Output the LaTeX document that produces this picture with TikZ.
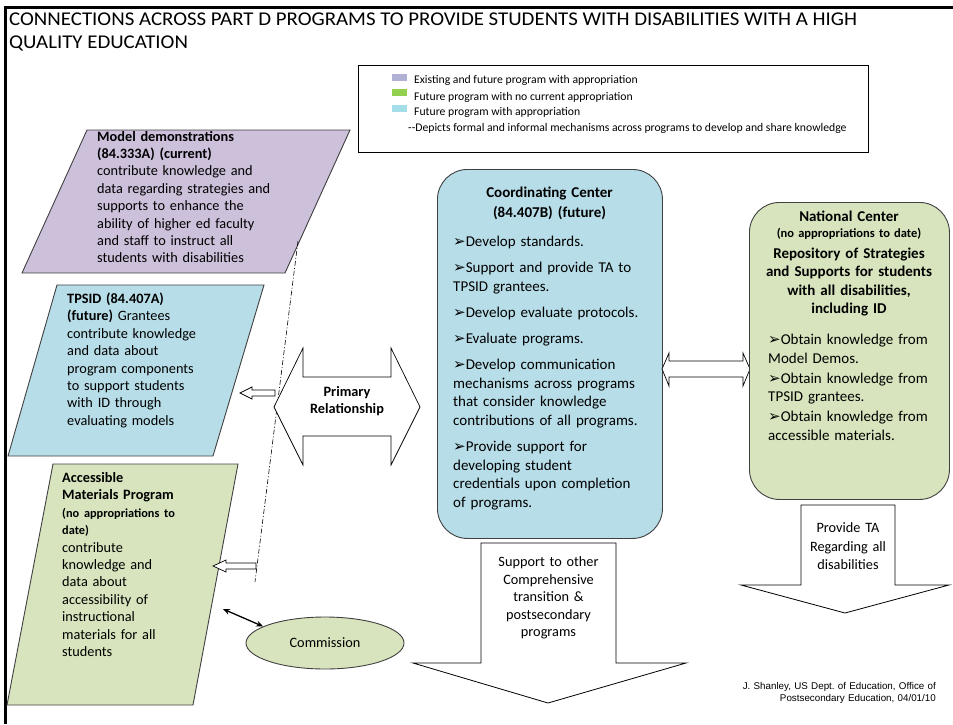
\documentclass[tikz,border=0pt]{standalone}
\usepackage{fontspec}
\usepackage{graphicx}
\setmainfont{Carlito}
\newfontfamily\arialf{Liberation Sans}
\newfontfamily\dvs{DejaVu Sans}
\usetikzlibrary{arrows.meta,shapes.geometric}
\definecolor{lav}{HTML}{CCC0DA}
\definecolor{lblue}{HTML}{B7DDE8}
\definecolor{lgreen}{HTML}{D7E4BD}
\definecolor{swlav}{HTML}{B1B1D5}
\definecolor{swgreen}{HTML}{92D050}
\definecolor{swblue}{HTML}{A5DEE8}
\definecolor{edgec}{HTML}{404040}
\newcommand\bul{{\dvs\fontsize{15}{10}\selectfont ➢}}
\frenchspacing
\tikzset{
  shapeline/.style={draw=edgec, line width=0.9pt},
  blockarrow/.style={draw=black, fill=white, line width=0.7pt},
  bodytxt/.style={inner sep=0pt, anchor=base west, align=left, font=\fontsize{14.3}{17.4}\selectfont},
  centertxt/.style={inner sep=0pt, anchor=base, align=center},
  legtxt/.style={inner sep=0pt, anchor=base west, font=\fontsize{11.7}{13}\selectfont},
}
\begin{document}
\begin{tikzpicture}[x=1pt,y=-1pt]
\useasboundingbox (0,0) rectangle (953,724);
% frame
\draw[line width=3pt] (5,724) -- (5,7) -- (953,7);
% title
\node[inner sep=0pt, anchor=base west] (title) at (9,25.4)
 {\resizebox{848pt}{\height}{\fontsize{19.5}{23}\selectfont\begin{tabular}[t]{@{}l@{}}CONNECTIONS ACROSS PART D PROGRAMS TO PROVIDE STUDENTS WITH DISABILITIES WITH A HIGH\\ QUALITY EDUCATION\end{tabular}}};
% legend
\draw[line width=0.8pt] (358,65) rectangle (868,152);
\fill[swlav] (392,74) rectangle (407,81);
\fill[swgreen] (392,89) rectangle (407,96);
\fill[swblue] (392,105) rectangle (407,112);
\node[legtxt] (l1) at (414,83.5) {Existing and future program with appropriation};
\node[legtxt] (l2) at (414,100) {Future program with no current appropriation};
\node[legtxt] (l3) at (414,115.5) {Future program with appropriation};
\node[legtxt] (l4) at (408,131.5) {{-}{-}Depicts formal and informal mechanisms across programs to develop and share knowledge};
% Model demonstrations
\coordinate (md1) at (87,130); \coordinate (md2) at (350,130);
\coordinate (md3) at (285,273); \coordinate (md4) at (22,273);
\draw[shapeline, fill=lav] (md1) -- (md2) -- (md3) -- (md4) -- cycle;
\node[bodytxt, text width=200pt] (mdt) at (97,141)
 {\textbf{Model demonstrations}\\ \textbf{(84.333A) (current)}\\ contribute knowledge and\\ data regarding strategies and\\ supports to enhance the\\ ability of higher ed faculty\\ and staff to instruct all\\ students with disabilities};
% TPSID
\coordinate (tp1) at (57,285); \coordinate (tp2) at (264,285);
\coordinate (tp3) at (213,456); \coordinate (tp4) at (8,456);
\draw[shapeline, fill=lblue] (tp1) -- (tp2) -- (tp3) -- (tp4) -- cycle;
\node[bodytxt, text width=170pt] (tpt) at (67,303.5)
 {\textbf{TPSID (84.407A)}\\ \textbf{(future)} Grantees\\ contribute knowledge\\ and data about\\ program components\\ to support students\\ with ID through\\ evaluating models};
% Accessible materials
\coordinate (am1) at (53,464); \coordinate (am2) at (238,464);
\coordinate (am3) at (193,705); \coordinate (am4) at (7,705);
\draw[shapeline, fill=lgreen] (am1) -- (am2) -- (am3) -- (am4) -- cycle;
\node[bodytxt, text width=150pt] (amt) at (62,482.5)
 {\textbf{Accessible}\\ \textbf{Materials Program}\\ {\fontsize{12.3}{14}\selectfont\textbf{(no appropriations to}}\\ {\fontsize{12.3}{14}\selectfont\textbf{date)}}\\ contribute\\ knowledge and\\ data about\\ accessibility of\\ instructional\\ materials for all\\ students};
% Commission
\node[ellipse, draw=edgec, line width=0.9pt, fill=lgreen, minimum width=158pt, minimum height=52pt, inner sep=0pt, font=\fontsize{14.3}{17}\selectfont] (comm) at (325,643) {Commission};
\coordinate (amarrow) at (223,609);
\draw[{Stealth[length=7pt,width=6pt]}-{Stealth[length=7pt,width=6pt]}, line width=1.3pt] (amarrow) -- (comm.165);
% dash-dot line
\coordinate (dd1) at (298,241); \coordinate (dd2) at (255,582);
\draw[dash pattern=on 5pt off 2pt on 1pt off 2pt, line width=0.6pt] (dd1) -- (dd2);
% small arrows
\draw[blockarrow] (240,393) -- (252,387) -- (252,390) -- (275,390) -- (275,396) -- (252,396) -- (252,399) -- cycle;
\draw[blockarrow] (213,566) -- (226,560) -- (226,563) -- (256,563) -- (256,569) -- (226,569) -- (226,572) -- cycle;
% Primary relationship
\draw[blockarrow] (274,407) -- (303,348) -- (303,377) -- (391,377) -- (391,348) -- (420,407) -- (391,465) -- (391,436) -- (303,436) -- (303,465) -- cycle;
\node[centertxt, text width=100pt, font=\bfseries\fontsize{14.3}{17}\selectfont] (prim) at (347,396.5) {Primary\\Relationship};
% Coordinating center
\node[shapeline, fill=lblue, rounded corners=30pt, minimum width=225pt, minimum height=369pt, anchor=north west, inner sep=0pt] (cc) at (437,169) {};
\node[centertxt, text width=210pt, font=\bfseries\fontsize{15}{20}\selectfont] (cct) at (549.5,197.5) {Coordinating Center\\(84.407B) (future)};
\node[inner sep=0pt, anchor=base west, align=left, text width=210pt, font=\fontsize{15}{18.6}\selectfont] (cci) at (453,246.5)
 {\bul Develop standards.\\[7.5pt]
  \bul Support and provide TA to\\ TPSID grantees.\\[7.5pt]
  \bul Develop evaluate protocols.\\[7.5pt]
  \bul Evaluate programs.\\[7.5pt]
  \bul Develop communication\\ mechanisms across programs\\ that consider knowledge\\ contributions of all programs.\\[7.5pt]
  \bul Provide support for\\ developing student\\ credentials upon completion\\ of programs.};
% double arrow between centers
\draw[blockarrow] (662,369) -- (669,353) -- (669,361) -- (743,361) -- (743,353) -- (750,369) -- (743,386) -- (743,377) -- (669,377) -- (669,386) -- cycle;
% National center
\node[shapeline, fill=lgreen, rounded corners=30pt, minimum width=200pt, minimum height=297pt, anchor=north west, inner sep=0pt] (nc) at (749,202) {};
\node[centertxt, text width=190pt, font=\bfseries\fontsize{15}{18}\selectfont] (nct1) at (849,221.5) {National Center};
\node[centertxt, text width=190pt, font=\bfseries\fontsize{12.5}{14}\selectfont] (nct2) at (849,237) {(no appropriations to date)};
\node[centertxt, text width=190pt, font=\bfseries\fontsize{15}{18.3}\selectfont] (nct3) at (849,258.5) {Repository of Strategies\\and Supports for students\\with all disabilities,\\including ID};
\node[inner sep=0pt, anchor=base west, align=left, text width=180pt, font=\fontsize{15}{18.5}\selectfont] (nci) at (768,344.5)
 {\bul Obtain knowledge from\\ Model Demos.\\[1.5pt]
  \bul Obtain knowledge from\\ TPSID grantees.\\[1.5pt]
  \bul Obtain knowledge from\\ accessible materials.};
% Support arrow
\draw[blockarrow, line width=0.8pt] (481,543) -- (616,543) -- (616,663) -- (686,663) -- (548,703) -- (413,663) -- (481,663) -- cycle;
\node[centertxt, text width=130pt, font=\fontsize{14.3}{17.5}\selectfont] (supt) at (548.5,566.5) {Support to other\\Comprehensive\\transition \&\\postsecondary\\programs};
% Provide TA arrow
\draw[blockarrow, line width=0.8pt] (801,505) -- (895,505) -- (895,585) -- (949,585) -- (845,613) -- (741,585) -- (801,585) -- cycle;
\node[centertxt, text width=94pt, font=\fontsize{14.3}{18.5}\selectfont] (pta) at (848,532.5) {Provide TA\\Regarding all\\disabilities};
% footer
\node[inner sep=0pt, anchor=base east, align=right, text width=230pt, font=\arialf\fontsize{9.8}{12.5}\selectfont] (foot) at (936,689) {J. Shanley, US Dept. of Education, Office of\\Postsecondary Education, 04/01/10};
\end{tikzpicture}
\end{document}
